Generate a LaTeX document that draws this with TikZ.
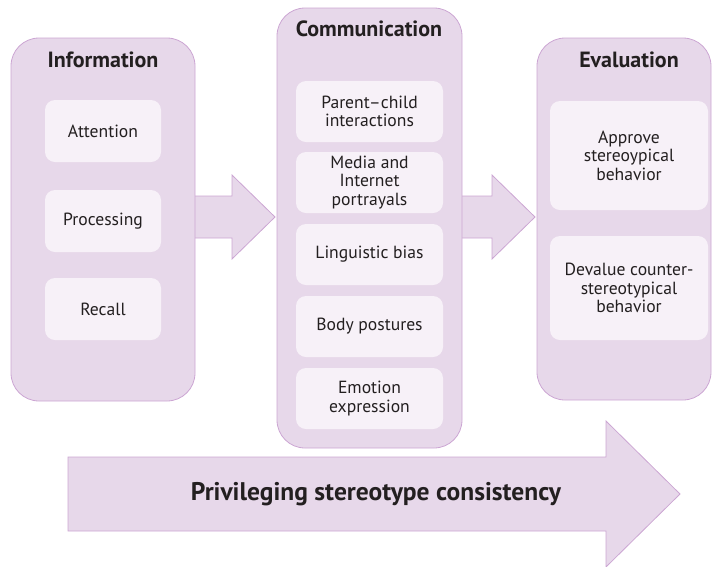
\documentclass[tikz,border=0pt]{standalone}
\usepackage{fontspec}
\setmainfont{PT Sans}
\definecolor{panelfill}{HTML}{E7D8EA}
\definecolor{panelline}{HTML}{CCA6D3}
\definecolor{innerfill}{HTML}{F7F1F8}
\definecolor{txt}{HTML}{231F20}
\begin{document}
\begin{tikzpicture}[x=1pt,y=-1pt,
  panel/.style={draw=panelline, fill=panelfill, line width=0.8pt, rounded corners=28pt, inner sep=0pt},
  innerbox/.style={fill=innerfill, rounded corners=10pt, inner sep=0pt, align=center, text=txt, font=\fontsize{17.6}{18.6}\selectfont},
  paneltitle/.style={font=\bfseries\fontsize{22}{24}\selectfont, text=txt, inner sep=0pt},
  blockarrow/.style={draw=panelline, fill=panelfill, line width=0.8pt, line join=miter}]
\useasboundingbox (0,0) rectangle (713,566);

% connecting block arrows (drawn first, panels cover the shaft ends)
\draw[blockarrow] (185,196) -- (232,196) -- (232,175) -- (275,217) -- (232,259) -- (232,238) -- (185,238);
\draw[blockarrow] (452,196) -- (492,196) -- (492,175) -- (535,217) -- (492,259) -- (492,238) -- (452,238);

% panels
\node[panel, minimum width=184pt, minimum height=363pt] (info) at (103,219.5) {};
\node[panel, minimum width=185pt, minimum height=440pt] (comm) at (369.5,228) {};
\node[panel, minimum width=174pt, minimum height=362pt] (eval) at (624,219) {};

% titles
\node[paneltitle] (tinfo) at (103,60) {Information};
\node[paneltitle] (tcomm) at (369,29) {Communication};
\node[paneltitle] (teval) at (629,60) {Evaluation};

% information items
\node[innerbox, minimum width=116pt, minimum height=62pt] (att) at (103,131) {Attention};
\node[innerbox, minimum width=116pt, minimum height=62pt] (proc) at (103,221) {Processing};
\node[innerbox, minimum width=116pt, minimum height=62pt] (rec) at (103,309) {Recall};

% communication items
\node[innerbox, minimum width=147pt, minimum height=61pt] (pc) at (369.5,111.5) {Parent--child\\interactions};
\node[innerbox, minimum width=147pt, minimum height=61pt] (media) at (369.5,182.5) {Media and\\Internet\\portrayals};
\node[innerbox, minimum width=147pt, minimum height=61pt] (ling) at (369.5,254.5) {Linguistic bias};
\node[innerbox, minimum width=147pt, minimum height=61pt] (body) at (369.5,326.5) {Body postures};
\node[innerbox, minimum width=147pt, minimum height=61pt] (emo) at (369.5,398.5) {Emotion\\expression};

% evaluation items
\node[innerbox, minimum width=158pt, minimum height=109pt] (appr) at (629,155.5) {Approve\\stereoypical\\behavior};
\node[innerbox, minimum width=158pt, minimum height=104pt] (deval) at (629,288) {Devalue counter-\\stereotypical\\behavior};

% big arrow
\draw[blockarrow] (68,457) -- (606,457) -- (606,421) -- (680,494) -- (606,567) -- (606,531) -- (68,531) -- cycle;
\node[font=\bfseries\fontsize{25.5}{28}\selectfont, text=txt] (priv) at (376,494) {Privileging stereotype consistency};
\end{tikzpicture}
\end{document}
